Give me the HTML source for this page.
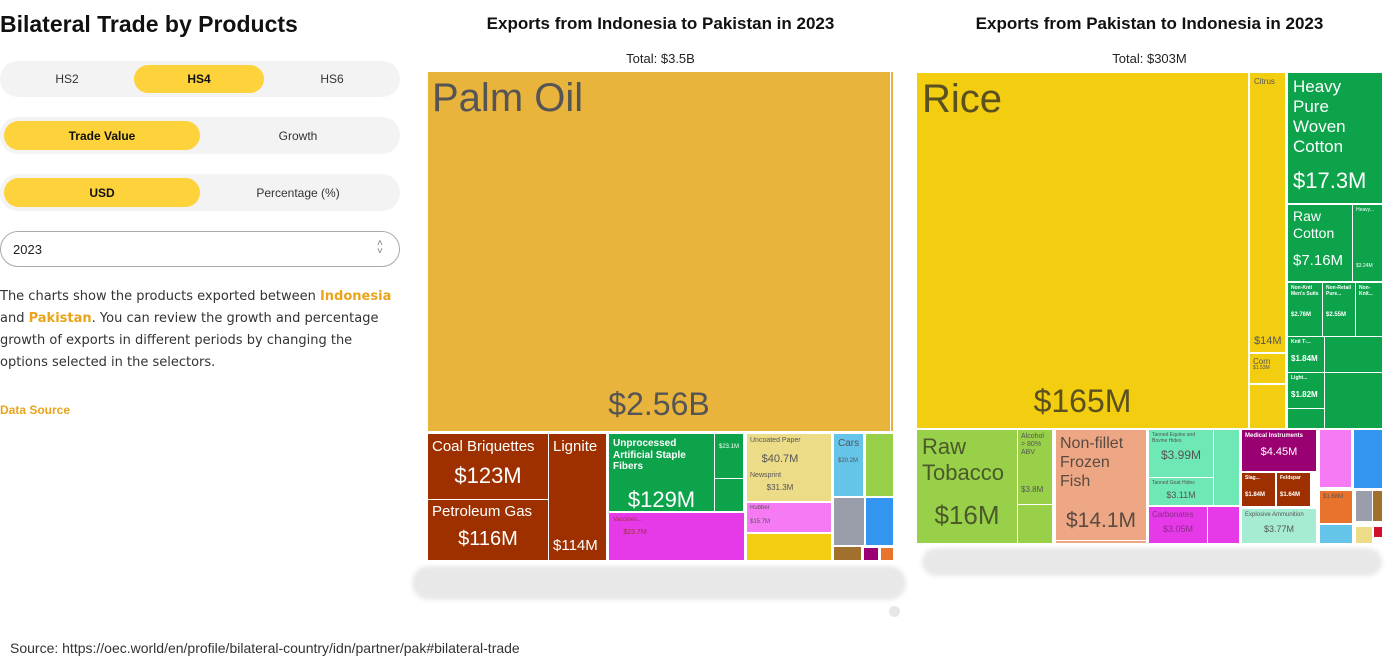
<!DOCTYPE html>
<html><head><meta charset="utf-8"><style>
*{margin:0;padding:0;box-sizing:border-box}
body{width:1393px;height:669px;background:#fff;position:relative;overflow:hidden;font-family:"Liberation Sans",sans-serif;color:#222}
.a{position:absolute}
.pill{position:absolute;background:#f3f3f3;border-radius:18px}
.sel{position:absolute;background:#fdd23a;border-radius:15px}
.t{position:absolute;font-size:12px;text-align:center;color:#333}
.r{position:absolute;overflow:hidden;line-height:1.15}
.w{color:#fff}.d{color:#555}
</style></head><body>
<div class="a" style="left:0;top:11px;font-size:23px;font-weight:bold;color:#111">Bilateral Trade by Products</div>
<div class="pill" style="left:0;top:61px;width:400px;height:36px"></div>
<div class="sel" style="left:134px;top:65px;width:130px;height:28px"></div>
<div class="t" style="left:0;top:72px;width:134px">HS2</div>
<div class="t" style="left:134px;top:72px;width:130px;font-weight:bold;color:#111">HS4</div>
<div class="t" style="left:264px;top:72px;width:136px">HS6</div>
<div class="pill" style="left:0;top:117px;width:400px;height:37px"></div>
<div class="sel" style="left:4px;top:121px;width:196px;height:29px"></div>
<div class="t" style="left:4px;top:129px;width:196px;font-weight:bold;color:#111">Trade Value</div>
<div class="t" style="left:200px;top:129px;width:196px">Growth</div>
<div class="pill" style="left:0;top:174px;width:400px;height:37px"></div>
<div class="sel" style="left:4px;top:178px;width:196px;height:29px"></div>
<div class="t" style="left:4px;top:186px;width:196px;font-weight:bold;color:#111">USD</div>
<div class="t" style="left:200px;top:186px;width:196px">Percentage (%)</div>
<div class="a" style="left:0;top:231px;width:400px;height:36px;border:1px solid #aaa;border-radius:18px"></div>
<div class="a" style="left:13px;top:242px;font-size:13px">2023</div>
<div class="a" style="left:377px;top:240px;font-size:10px;color:#777;line-height:8px">˄<br>˅</div>
<div class="a" style="left:0;top:286px;width:392px;font-family:'DejaVu Sans',sans-serif;font-size:13px;line-height:22px;color:#333">The charts show the products exported between <b style="color:#e9a41a">Indonesia</b> and <b style="color:#e9a41a">Pakistan</b>. You can review the growth and percentage growth of exports in different periods by changing the options selected in the selectors.</div>
<div class="a" style="left:0;top:403px;font-size:12px;font-weight:bold;color:#e9a41a">Data Source</div>
<div class="a" style="left:10px;top:640px;font-size:14px;color:#333">Source: https://oec.world/en/profile/bilateral-country/idn/partner/pak#bilateral-trade</div>

<div class="a" style="left:428px;top:14px;width:465px;text-align:center;font-size:17px;font-weight:bold;color:#111">Exports from Indonesia to Pakistan in 2023</div>
<div class="a" style="left:428px;top:51px;width:465px;text-align:center;font-size:13px">Total: $3.5B</div>
<div class="a" style="left:917px;top:14px;width:465px;text-align:center;font-size:17px;font-weight:bold;color:#111">Exports from Pakistan to Indonesia in 2023</div>
<div class="a" style="left:917px;top:51px;width:465px;text-align:center;font-size:13px">Total: $303M</div>

<!-- left treemap -->
<div class="r d" style="left:428px;top:72px;width:462px;height:359px;background:#e9b43c;font-size:40px;padding:3px 4px"><span>Palm Oil</span><div class="a" style="left:0;width:100%;top:314px;text-align:center;font-size:32px">$2.56B</div></div>
<div class="r" style="left:891px;top:72px;width:2px;height:359px;background:#e9b43c"></div>
<div class="r w" style="left:428px;top:434px;width:120px;height:65px;background:#9e3000;font-size:15px;padding:4px"><div>Coal Briquettes</div><div style="text-align:center;font-size:22px;margin-top:8px">$123M</div></div>
<div class="r w" style="left:428px;top:500px;width:120px;height:60px;background:#9e3000;font-size:15px;padding:3px 4px"><div>Petroleum Gas</div><div style="text-align:center;font-size:20px;margin-top:8px">$116M</div></div>
<div class="r w" style="left:549px;top:434px;width:57px;height:126px;background:#9e3000;font-size:15px;padding:4px"><div>Lignite</div><div class="a" style="left:4px;top:103px;font-size:15px">$114M</div></div>
<div class="r w" style="left:609px;top:434px;width:105px;height:77px;background:#0ca34b;font-size:10px;padding:4px;font-weight:bold"><div>Unprocessed Artificial Staple Fibers</div><div style="text-align:center;font-size:22px;font-weight:normal;margin-top:14px">$129M</div></div>
<div class="r w" style="left:715px;top:434px;width:28px;height:44px;background:#0ca34b;font-size:6px;padding-top:10px;text-align:center">$23.1M</div>
<div class="r" style="left:715px;top:479px;width:28px;height:32px;background:#0ca34b"></div>
<div class="r" style="left:609px;top:513px;width:135px;height:47px;background:#e63ae8"></div>
<div class="r d" style="left:610px;top:514px;width:50px;height:46px;font-size:6px;padding:3px;color:#933">Vaccines...<div style="text-align:center;font-size:7px;margin-top:5px">$23.7M</div></div>
<div class="r" style="left:747px;top:434px;width:84px;height:67px;background:#ecdc88"></div>
<div class="r d" style="left:750px;top:437px;width:60px;height:60px;font-size:7px">Uncoated Paper<div style="text-align:center;font-size:11px;margin-top:8px">$40.7M</div><div style="margin-top:6px">Newsprint</div><div style="text-align:center;font-size:8px;margin-top:3px">$31.3M</div></div>
<div class="r" style="left:747px;top:503px;width:84px;height:29px;background:#f77af5"></div>
<div class="r d" style="left:750px;top:505px;font-size:6px">Rubber<br><br>$15.7M</div>
<div class="r" style="left:747px;top:534px;width:84px;height:26px;background:#f2cd10"></div>
<div class="r d" style="left:834px;top:434px;width:29px;height:62px;background:#65c4ea;font-size:10px;padding:4px">Cars<div style="font-size:6px;margin-top:8px">$20.2M</div></div>
<div class="r" style="left:834px;top:498px;width:30px;height:47px;background:#9a9eab"></div>
<div class="r" style="left:834px;top:547px;width:27px;height:13px;background:#a0702c"></div>
<div class="r" style="left:866px;top:434px;width:27px;height:62px;background:#98d04a"></div>
<div class="r" style="left:866px;top:498px;width:27px;height:47px;background:#3296f0"></div>
<div class="r" style="left:864px;top:548px;width:14px;height:12px;background:#9b0072"></div>
<div class="r" style="left:881px;top:548px;width:12px;height:12px;background:#e8732c"></div>

<!-- right treemap -->
<div class="r d" style="left:917px;top:73px;width:331px;height:355px;background:#f2cd10;font-size:40px;padding:3px 5px;color:#5a5020">Rice<div class="a" style="left:0;width:100%;top:310px;text-align:center;font-size:32px">$165M</div></div>
<div class="r d" style="left:1250px;top:73px;width:35px;height:279px;background:#f2cd10;font-size:8px;padding:4px"><div>Citrus</div><div class="a" style="top:262px;left:4px;font-size:11px">$14M</div></div>
<div class="r d" style="left:1250px;top:354px;width:35px;height:29px;background:#f2cd10;font-size:8px;padding:3px">Corn<div style="font-size:5px">$1.53M</div></div>
<div class="r" style="left:1250px;top:385px;width:35px;height:43px;background:#f2cd10"></div>
<div class="r w" style="left:1288px;top:73px;width:94px;height:130px;background:#0ca34b;font-size:17px;padding:4px 5px;line-height:20px">Heavy Pure Woven Cotton<div style="font-size:22px;margin-top:14px">$17.3M</div></div>
<div class="r w" style="left:1288px;top:205px;width:64px;height:76px;background:#0ca34b;font-size:14px;padding:3px 5px;line-height:17px">Raw Cotton<div style="font-size:15px;margin-top:10px">$7.16M</div></div>
<div class="r w" style="left:1353px;top:205px;width:29px;height:76px;background:#0ca34b;font-size:5px;padding:3px">Heavy...<div style="margin-top:50px">$3.24M</div></div>
<div class="r w" style="left:1288px;top:283px;width:34px;height:53px;background:#0ca34b;font-size:5px;padding:3px;font-weight:bold">Non-Knit Men's Suits<div style="margin-top:14px;font-size:6px">$2.76M</div></div>
<div class="r w" style="left:1323px;top:283px;width:32px;height:53px;background:#0ca34b;font-size:5px;padding:3px;font-weight:bold">Non-Retail Pure...<div style="margin-top:14px;font-size:6px">$2.55M</div></div>
<div class="r w" style="left:1356px;top:283px;width:26px;height:53px;background:#0ca34b;font-size:5px;padding:3px;font-weight:bold">Non-Knit...</div>
<div class="r w" style="left:1288px;top:337px;width:36px;height:35px;background:#0ca34b;font-size:5px;padding:3px;font-weight:bold">Knit T-...<div style="font-size:8px;margin-top:8px">$1.84M</div></div>
<div class="r" style="left:1325px;top:337px;width:57px;height:35px;background:#0ca34b"></div>
<div class="r w" style="left:1288px;top:373px;width:36px;height:35px;background:#0ca34b;font-size:5px;padding:3px;font-weight:bold">Light...<div style="font-size:8px;margin-top:8px">$1.82M</div></div>
<div class="r" style="left:1325px;top:373px;width:57px;height:55px;background:#0ca34b"></div>
<div class="r" style="left:1288px;top:409px;width:36px;height:19px;background:#0ca34b"></div>

<div class="r d" style="left:917px;top:430px;width:100px;height:113px;background:#98d04a;font-size:22px;padding:4px 5px;line-height:26px;color:#4a5a2a">Raw Tobacco<div style="text-align:center;font-size:26px;margin-top:16px">$16M</div></div>
<div class="r d" style="left:1018px;top:430px;width:34px;height:74px;background:#98d04a;font-size:7px;padding:3px">Alcohol &gt; 80% ABV<div style="font-size:8px;margin-top:28px">$3.8M</div></div>
<div class="r" style="left:1018px;top:505px;width:34px;height:38px;background:#98d04a"></div>
<div class="r d" style="left:1056px;top:430px;width:90px;height:110px;background:#eea784;font-size:16px;padding:4px;line-height:19px;color:#5a4a40">Non-fillet Frozen Fish<div style="text-align:center;font-size:21px;margin-top:20px">$14.1M</div></div>
<div class="r" style="left:1056px;top:541px;width:90px;height:2px;background:#eea784"></div>
<div class="r d" style="left:1149px;top:430px;width:64px;height:47px;background:#6ee8b4;font-size:5px;padding:3px">Tanned Equine and Bovine Hides<div style="text-align:center;font-size:12px;margin-top:4px">$3.99M</div></div>
<div class="r d" style="left:1149px;top:478px;width:64px;height:27px;background:#6ee8b4;font-size:5px;padding:3px">Tanned Goat Hides<div style="text-align:center;font-size:9px;margin-top:3px">$3.11M</div></div>
<div class="r" style="left:1214px;top:430px;width:25px;height:75px;background:#6ee8b4"></div>
<div class="r d" style="left:1149px;top:507px;width:58px;height:36px;background:#e63ae8;font-size:8px;padding:3px;color:#8a2a8a">Carbonates<div style="text-align:center;font-size:9px;margin-top:5px">$3.05M</div></div>
<div class="r" style="left:1208px;top:507px;width:31px;height:36px;background:#e63ae8"></div>
<div class="r w" style="left:1242px;top:430px;width:74px;height:41px;background:#9b0072;font-size:6px;padding:3px;font-weight:bold">Medical Instruments<div style="text-align:center;font-size:11px;font-weight:normal;margin-top:6px">$4.45M</div></div>
<div class="r w" style="left:1242px;top:473px;width:33px;height:33px;background:#9e3000;font-size:5px;padding:3px;font-weight:bold">Slag...<div style="font-size:6px;margin-top:10px">$1.84M</div></div>
<div class="r w" style="left:1277px;top:473px;width:33px;height:33px;background:#9e3000;font-size:5px;padding:3px;font-weight:bold">Feldspar<div style="font-size:6px;margin-top:10px">$1.64M</div></div>
<div class="r d" style="left:1242px;top:509px;width:74px;height:34px;background:#a6ecd3;font-size:6px;padding:3px">Explosive Ammunition<div style="text-align:center;font-size:9px;margin-top:5px">$3.77M</div></div>
<div class="r" style="left:1320px;top:430px;width:31px;height:57px;background:#f77af5"></div>
<div class="r" style="left:1354px;top:430px;width:28px;height:58px;background:#3296f0"></div>
<div class="r d" style="left:1320px;top:491px;width:32px;height:32px;background:#e8732c;font-size:6px;padding:3px">$1.68M</div>
<div class="r" style="left:1320px;top:525px;width:32px;height:18px;background:#65c4ea"></div>
<div class="r" style="left:1356px;top:491px;width:16px;height:30px;background:#9a9eab"></div>
<div class="r" style="left:1373px;top:491px;width:9px;height:30px;background:#a0702c"></div>
<div class="r" style="left:1356px;top:527px;width:16px;height:16px;background:#ecdc88"></div>
<div class="r" style="left:1374px;top:527px;width:8px;height:10px;background:#d0102a"></div>

<!-- smudges -->
<div class="a" style="left:412px;top:566px;width:494px;height:34px;background:#e8e8e8;border-radius:18px;filter:blur(2px)"></div>
<div class="a" style="left:922px;top:548px;width:460px;height:28px;background:#e8e8e8;border-radius:15px;filter:blur(2px)"></div>
<div class="a" style="left:889px;top:606px;width:11px;height:11px;background:#e6e6e6;border-radius:50%"></div>
</body></html>
